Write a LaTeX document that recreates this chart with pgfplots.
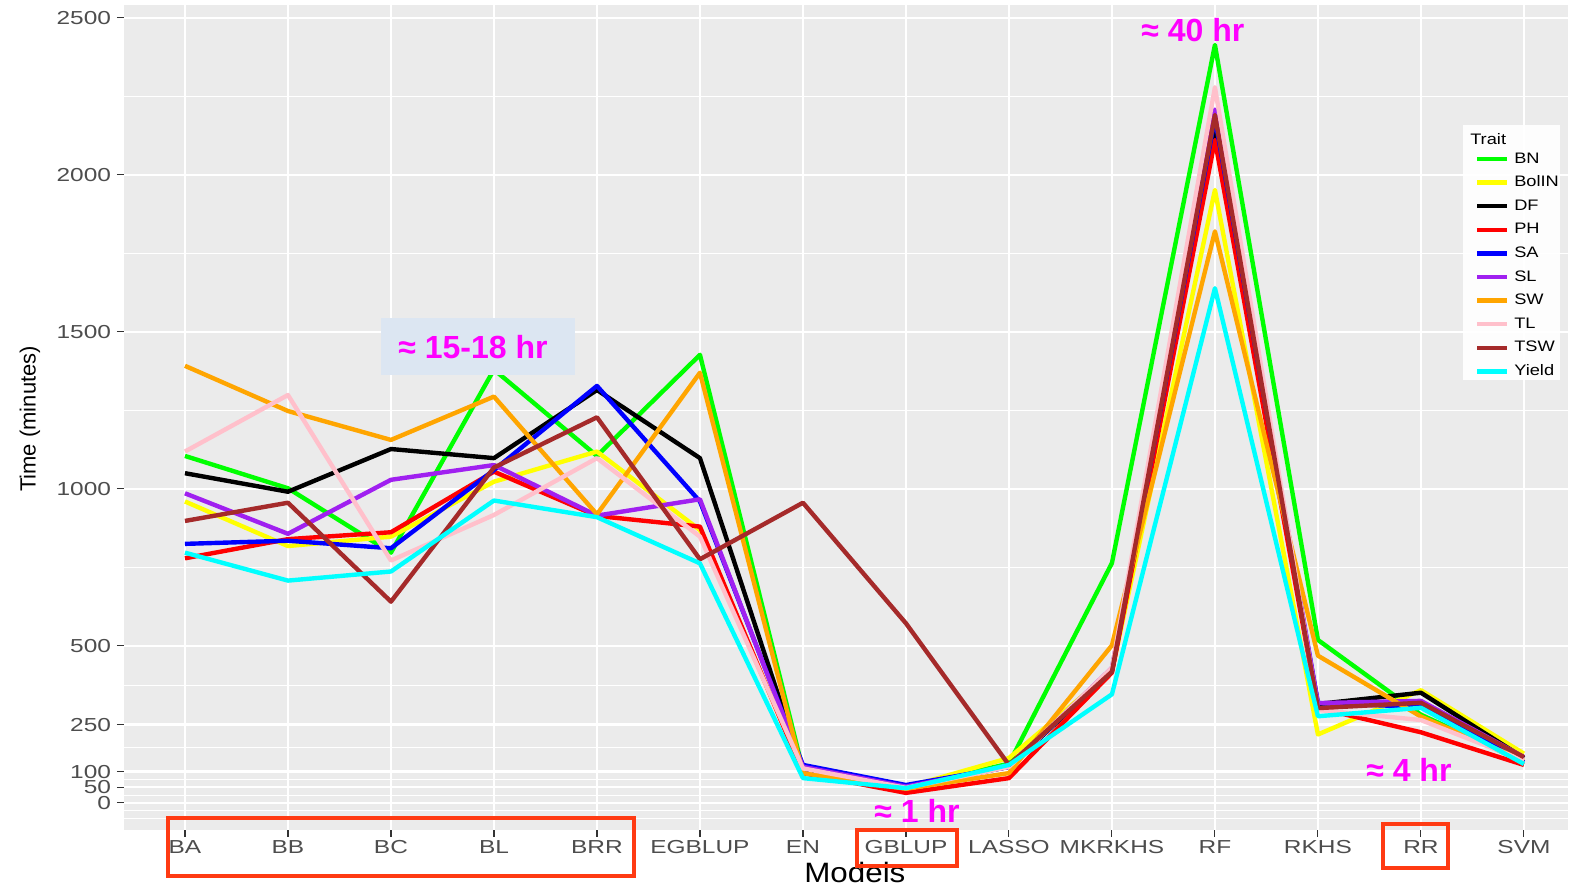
\documentclass[border=0pt]{standalone}
\usepackage{pgfplots}
\pgfplotsset{compat=1.18}
\usepackage{pgfplotstable}
\usepackage{fontspec}
\setmainfont{Liberation Sans}
\newfontfamily\wide{Liberation Sans}[FakeStretch=1.3]
\newfontfamily\legw{Liberation Sans}[FakeStretch=1.2]
\newfontfamily\midw{Liberation Sans}[FakeStretch=1.12]

\definecolor{bggray}{HTML}{EBEBEB}
\definecolor{tickgray}{HTML}{333333}
\definecolor{labelgray}{HTML}{4D4D4D}
\definecolor{cBN}{HTML}{00FF00}
\definecolor{cBolIN}{HTML}{FFFF00}
\definecolor{cDF}{HTML}{000000}
\definecolor{cPH}{HTML}{FF0000}
\definecolor{cSA}{HTML}{0000FF}
\definecolor{cSL}{HTML}{A020F0}
\definecolor{cSW}{HTML}{FFA500}
\definecolor{cTL}{HTML}{FFC0CB}
\definecolor{cTSW}{HTML}{A52A2A}
\definecolor{cYield}{HTML}{00FFFF}
\definecolor{annot}{HTML}{FF00FF}
\definecolor{boxred}{HTML}{FF3A12}
\definecolor{boxblue}{HTML}{DCE6F2}

\pgfplotstableread{
x  BN   BolIN DF   PH   SA   SL   SW   TL   TSW  Yield
0  1105 960   1050 779  825  986  1392 1119 898  797
1  1002 818   991  840  835  857  1248 1299 956  708
2  797  848   1127 862  811  1029 1156 772  641  737
3  1380 1023  1098 1055 1060 1076 1294 917  1068 963
4  1105 1119  1315 914  1328 915  919  1098 1228 910
5  1427 869   1098 880  960  967  1370 848  776  763
6  105  100   105  95   121  115  95   110  956  79
7  50   50    52   32   57   52   45   48   572  47
8  125  143   115  79   115  115  95   115  121  121
9  764  420   420  415  425  430  502  430  418  346
10 2414 1952  2133 2111 2180 2208 1820 2279 2191 1639
11 519  218   315  302  318  318  469  296  302  276
12 281  359   351  225  306  325  275  264  319  303
13 130  157   143  121  130  146  135  135  146  124
}\timedata

\begin{document}
\begin{tikzpicture}
\begin{scope}[x=0.5pt,y=-0.5pt,yshift=443.5pt]
\useasboundingbox (0,0) rectangle (1569,887);
\end{scope}
\begin{axis}[
  at={(62pt,28.5pt)}, anchor=south west,
  scale only axis, width=722pt, height=412.5pt,
  xmin=-0.592, xmax=13.427, ymin=-86, ymax=2541,
  axis background/.style={fill=bggray},
  axis line style={draw=none},
  xtick={0,1,2,3,4,5,6,7,8,9,10,11,12,13},
  xticklabels={BA,BB,BC,BL,BRR,EGBLUP,EN,GBLUP,LASSO,MKRKHS,RF,RKHS,RR,SVM},
  ytick={0,50,100,250,500,1000,1500,2000,2500},
  yticklabels={0,50,100,250,500,1000,1500,2000,2500},
  minor ytick={-50,-25,25,75,175,375,750,1250,1750,2250},
  xmajorgrids=true, ymajorgrids=true, yminorgrids=true,
  major grid style={white, line width=1.1pt},
  minor grid style={white, line width=0.5pt},
  tick align=outside, tick pos=left,
  major tick length=3.5pt, minor tick length=0pt,
  tick style={color=tickgray, line width=0.55pt},
  /pgf/number format/assume math mode=true,
  ticklabel style={font=\wide\fontsize{9.4}{9.4}\selectfont, text=labelgray},
  yticklabel style={anchor=east, inner sep=0pt, xshift=-2.8pt, text height=6.6pt, text depth=0pt},
  xticklabel style={anchor=north, inner sep=0pt, yshift=-1.5pt, text height=6.7pt},
  xlabel={Models},
  ylabel={Time (minutes)},
  xlabel style={at={(axis description cs:0.5062,-0.0521)}, anchor=center, font=\midw\fontsize{14}{14}\selectfont},
  ylabel style={at={(axis description cs:-0.0651,0.4982)}, anchor=center, rotate=0, font=\fontsize{11}{11}\selectfont},
  clip=false,
  legend style={at={(0.9356,0.8215)}, anchor=north west, draw=none, fill=none,
    inner sep=0pt, outer sep=0pt, font=\legw\fontsize{7.6}{7.6}\selectfont,
    row sep=5.1pt, column sep=2.5pt,
    nodes={inner sep=0pt, text height=5.4pt, text depth=1.3pt}},
  legend cell align=left,
  legend image code/.code={\draw[#1] (0pt,0pt) -- (15pt,0pt);},
  every axis plot/.append style={line width=2.2pt, line join=round, mark=none},
]
\fill[white, opacity=0.92] (rel axis cs:0.9273,0.8545) rectangle (rel axis cs:0.9945,0.5455);
\node[anchor=west, inner sep=0pt, font=\legw\fontsize{7.6}{7.6}\selectfont] at (rel axis cs:0.9321,0.8376) {Trait};
\addplot[cBN] table[x=x,y=BN] {\timedata}; \addlegendentry{BN}
\addplot[cBolIN] table[x=x,y=BolIN] {\timedata}; \addlegendentry{BolIN}
\addplot[cDF] table[x=x,y=DF] {\timedata}; \addlegendentry{DF}
\addplot[cPH] table[x=x,y=PH] {\timedata}; \addlegendentry{PH}
\addplot[cSA] table[x=x,y=SA] {\timedata}; \addlegendentry{SA}
\addplot[cSL] table[x=x,y=SL] {\timedata}; \addlegendentry{SL}
\addplot[cSW] table[x=x,y=SW] {\timedata}; \addlegendentry{SW}
\addplot[cTL] table[x=x,y=TL] {\timedata}; \addlegendentry{TL}
\addplot[cTSW] table[x=x,y=TSW] {\timedata}; \addlegendentry{TSW}
\addplot[cYield] table[x=x,y=Yield] {\timedata}; \addlegendentry{Yield}
\end{axis}
\begin{scope}[x=0.5pt,y=-0.5pt,yshift=443.5pt]
\fill[boxblue] (381,318) rectangle (575,375);
\node[text=annot, font=\bfseries\fontsize{16}{16}\selectfont, inner sep=0pt] at (473,347) {≈ 15-18 hr};
\node[text=annot, font=\bfseries\fontsize{16}{16}\selectfont, inner sep=0pt] at (1193,30) {≈ 40 hr};
\node[text=annot, font=\bfseries\fontsize{16}{16}\selectfont, inner sep=0pt] at (917,811) {≈ 1 hr};
\node[text=annot, font=\bfseries\fontsize{16}{16}\selectfont, inner sep=0pt] at (1409,770) {≈ 4 hr};
\draw[boxred, line width=1.8pt] (168,818) rectangle (634,876);
\draw[boxred, line width=1.8pt] (857,830) rectangle (957,866);
\draw[boxred, line width=1.8pt] (1383,824) rectangle (1448,868);
\end{scope}
\end{tikzpicture}
\end{document}
